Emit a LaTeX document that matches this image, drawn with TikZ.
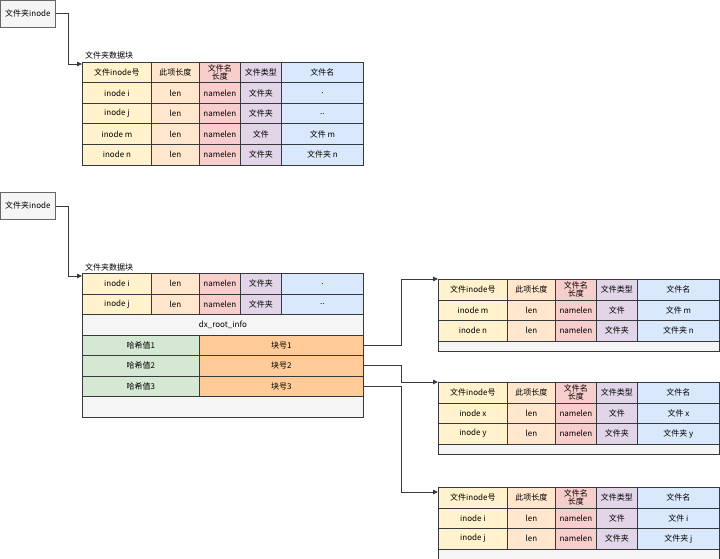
\documentclass[tikz,border=0pt]{standalone}
\usepackage{fontspec}
\setmainfont{Noto Sans CJK SC}
\usetikzlibrary{arrows.meta, positioning}

\definecolor{linec}{HTML}{36393D}
\definecolor{boxline}{HTML}{666666}
\definecolor{inof}{HTML}{FFF2CC}
\definecolor{lenf}{HTML}{FFE6CC}
\definecolor{nlenf}{HTML}{F8CECC}
\definecolor{typef}{HTML}{E1D5E7}
\definecolor{namef}{HTML}{DAE8FC}
\definecolor{grayf}{HTML}{F5F5F5}
\definecolor{hashf}{HTML}{D5E8D4}
\definecolor{blockf}{HTML}{FFCC99}

\tikzset{
  cell/.style={draw=linec, line width=0.8pt, anchor=north west, inner sep=0pt,
    minimum height=20.5pt, align=center, font=\fontsize{8}{8.5}\selectfont},
  inocell/.style={cell, fill=inof, minimum width=69pt},
  lencell/.style={cell, fill=lenf, minimum width=48pt},
  nlcell/.style={cell, fill=nlenf, minimum width=41pt},
  typecell/.style={cell, fill=typef, minimum width=41pt},
  namecell/.style={cell, fill=namef, minimum width=82pt},
  graycell/.style={cell, fill=grayf, minimum width=281pt},
  inobox/.style={draw=boxline, line width=0.8pt, fill=grayf, anchor=north west,
    minimum width=55pt, minimum height=27pt, inner sep=0pt, font=\fontsize{8}{9}\selectfont},
  blocklabel/.style={anchor=west, inner sep=0pt, font=\fontsize{8}{9}\selectfont},
  link/.style={draw=linec, line width=0.8pt, -{Triangle[length=5pt,width=4.5pt]}}
}

% one directory entry: name, x, y, five cells
\newcommand{\dirrow}[8]{%
  \node[inocell] (#1-1) at (#2,#3) {#4};
  \node[lencell] (#1-2) at ({#2+69},#3) {#5};
  \node[nlcell] (#1-3) at ({#2+117},#3) {#6};
  \node[typecell] (#1-4) at ({#2+158},#3) {#7};
  \node[namecell] (#1-5) at ({#2+199},#3) {#8};
}

\begin{document}
\begin{tikzpicture}[x=1pt, y=-1pt]
    \useasboundingbox (0,0) rectangle (720,559);

    % Linear directory
    \node[inobox] (ino1) at (0,0) {文件夹inode};
    \node[blocklabel] (lab1) at (85,55) {文件夹数据块};
    \dirrow{d1h}{82}{62}{文件inode号}{此项长度}{文件名\\长度}{文件类型}{文件名}
    \dirrow{d1a}{82}{82.5}{inode i}{len}{namelen}{文件夹}{.}
    \dirrow{d1b}{82}{103}{inode j}{len}{namelen}{文件夹}{..}
    \dirrow{d1c}{82}{123.5}{inode m}{len}{namelen}{文件}{文件 m}
    \dirrow{d1d}{82}{144}{inode n}{len}{namelen}{文件夹}{文件夹 n}
    \coordinate (in1) at (82,64);
    \draw[link] (ino1.east) -- ++(13,0) |- (in1);

    % Hashed directory
    \node[inobox] (ino2) at (0,192) {文件夹inode};
    \node[blocklabel] (lab2) at (85,267) {文件夹数据块};
    \dirrow{d2a}{82}{273}{inode i}{len}{namelen}{文件夹}{.}
    \dirrow{d2b}{82}{293.5}{inode j}{len}{namelen}{文件夹}{..}
    \node[graycell] (info) at (82,314) {dx\_root\_info};
    \node[cell, fill=hashf, minimum width=117pt] (h1-1) at (82,334.5) {哈希值1};
    \node[cell, fill=blockf, minimum width=164pt] (h1-2) at (199,334.5) {块号1};
    \node[cell, fill=hashf, minimum width=117pt] (h2-1) at (82,355) {哈希值2};
    \node[cell, fill=blockf, minimum width=164pt] (h2-2) at (199,355) {块号2};
    \node[cell, fill=hashf, minimum width=117pt] (h3-1) at (82,375.5) {哈希值3};
    \node[cell, fill=blockf, minimum width=164pt] (h3-2) at (199,375.5) {块号3};
    \node[graycell] (d2end) at (82,396) {};
    \coordinate (in2) at (82,276);
    \draw[link] (ino2.east) -- ++(13,0) |- (in2);

    % Leaf blocks
    \dirrow{s1h}{438}{279}{文件inode号}{此项长度}{文件名\\长度}{文件类型}{文件名}
    \dirrow{s1a}{438}{299.5}{inode m}{len}{namelen}{文件}{文件 m}
    \dirrow{s1b}{438}{320}{inode n}{len}{namelen}{文件夹}{文件夹 n}
    \node[graycell, minimum height=10pt] (s1end) at (438,340.5) {};

    \dirrow{s2h}{438}{382}{文件inode号}{此项长度}{文件名\\长度}{文件类型}{文件名}
    \dirrow{s2a}{438}{402.5}{inode x}{len}{namelen}{文件}{文件 x}
    \dirrow{s2b}{438}{423}{inode y}{len}{namelen}{文件夹}{文件夹 y}
    \node[graycell, minimum height=10pt] (s2end) at (438,443.5) {};

    \dirrow{s3h}{438}{487}{文件inode号}{此项长度}{文件名\\长度}{文件类型}{文件名}
    \dirrow{s3a}{438}{507.5}{inode i}{len}{namelen}{文件}{文件 i}
    \dirrow{s3b}{438}{528}{inode j}{len}{namelen}{文件夹}{文件夹 j}
    \node[graycell, minimum height=10pt] (s3end) at (438,548.5) {};

    % Block pointers
    \coordinate (in3) at (438,492);
    \draw[link] (h1-2.east) -- ++(38,0) |- (s1h-1.north west);
    \draw[link] (h2-2.east) -- ++(38,0) |- (s2h-1.north west);
    \draw[link] (h3-2.east) -- ++(38,0) |- (in3);
\end{tikzpicture}
\end{document}
